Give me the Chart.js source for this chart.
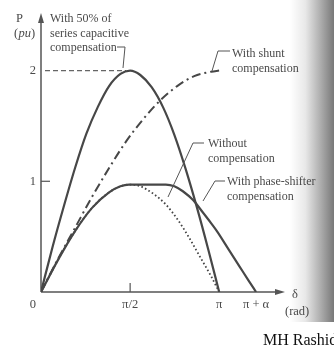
<!DOCTYPE html>
<html><head><meta charset="utf-8">
<script src="https://cdn.jsdelivr.net/npm/chart.js@4"></script>
<style>
html,body{margin:0;padding:0;background:#fff;}
#wrap{position:relative;width:334px;height:352px;overflow:hidden;background:#fff;}
#shade{position:absolute;left:290px;top:0;width:44px;height:322px;background:linear-gradient(to right,rgba(255,255,255,0) 0%,#e8e8e8 35%,#b0b0b0 68%,#787878 100%);}
canvas{position:absolute;left:0;top:0;}
</style></head><body>
<div id="wrap"><div id="shade"></div><canvas id="c" width="334" height="352"></canvas></div>
<script>
// Load angle delta (rad) and power P (pu)
const capDelta = [0,0.2,0.4,0.6,0.8,1.0,1.2,1.4,1.57,1.75,1.95,2.15,2.35,2.55,2.75,2.95,3.14];
const capP     = [0,0.40,0.77,1.12,1.43,1.67,1.86,1.97,2.0,1.96,1.85,1.67,1.42,1.11,0.76,0.38,0];

const shuntDelta = [0,0.3,0.6,0.9,1.2,1.5,1.8,2.1,2.4,2.7,3.0,3.14];
const shuntP     = [0,0.30,0.58,0.86,1.12,1.36,1.56,1.73,1.86,1.95,1.99,2.0];

const withoutDelta = [0,0.3,0.6,0.9,1.2,1.4,1.57,1.75,2.0,2.2,2.4,2.6,2.8,3.0,3.14];
const withoutP     = [0,0.29,0.55,0.76,0.90,0.955,0.97,0.955,0.88,0.79,0.66,0.50,0.32,0.14,0];

const phaseDelta = [0,0.3,0.6,0.9,1.2,1.4,1.55,2.2,2.35,2.5,2.68,2.85,3.0,3.1,3.3,3.5,3.65,3.79];
const phaseP     = [0,0.29,0.55,0.76,0.90,0.955,0.97,0.97,0.955,0.91,0.83,0.72,0.62,0.55,0.39,0.23,0.11,0];

const xTickValues = [1.5708, 3.1416, 3.79];
const xTickLabels = ['π/2', 'π', 'π + α'];
const yTickValues = [1, 2];
const yTickLabels = ['1', '2'];
const peakRef = 2;

const pts = (xs, ys) => xs.map((v, i) => ({x: v, y: ys[i]}));
const ink = '#474747';
const serif = '"Liberation Serif", "DejaVu Serif", serif';

const deco = {
  id: 'deco',
  beforeDatasetsDraw(chart) {
    const {ctx, scales: {x, y}} = chart;
    const x0 = x.getPixelForValue(0), y0 = y.getPixelForValue(0);
    const xEnd = x.getPixelForValue(x.max), yTop = y.getPixelForValue(y.max);
    ctx.save();
    ctx.strokeStyle = '#555'; ctx.fillStyle = '#555'; ctx.lineWidth = 1.5;
    ctx.beginPath();
    ctx.moveTo(x0, y0); ctx.lineTo(xEnd - 5, y0);
    ctx.moveTo(x0, y0); ctx.lineTo(x0, yTop + 5);
    ctx.stroke();
    ctx.beginPath(); ctx.moveTo(xEnd, y0); ctx.lineTo(xEnd - 10, y0 - 3); ctx.lineTo(xEnd - 10, y0 + 3); ctx.closePath(); ctx.fill();
    ctx.beginPath(); ctx.moveTo(x0, yTop); ctx.lineTo(x0 - 3, yTop + 10); ctx.lineTo(x0 + 3, yTop + 10); ctx.closePath(); ctx.fill();
    ctx.lineWidth = 1.2;
    const y1 = y.getPixelForValue(1);
    ctx.beginPath(); ctx.moveTo(x0, y1); ctx.lineTo(x0 + 9, y1); ctx.stroke();
    const xp = x.getPixelForValue(xTickValues[0]);
    ctx.beginPath(); ctx.moveTo(xp, y0); ctx.lineTo(xp, y0 - 9); ctx.stroke();
    // dashed reference at P = 2
    const y2 = y.getPixelForValue(peakRef);
    ctx.strokeStyle = '#666'; ctx.lineWidth = 1.3; ctx.setLineDash([5, 3]);
    ctx.beginPath(); ctx.moveTo(x0 + 4, y2); ctx.lineTo(x.getPixelForValue(1.5), y2); ctx.stroke();
    ctx.restore();
  },
  afterDatasetsDraw(chart) {
    const {ctx, scales: {x, y}} = chart;
    const x0 = x.getPixelForValue(0), y0 = y.getPixelForValue(0);
    ctx.save();
    ctx.fillStyle = '#4a4a4a';
    ctx.font = '12.5px ' + serif;
    ctx.textBaseline = 'middle';
    ctx.textAlign = 'right';
    yTickValues.forEach((v, i) => ctx.fillText(yTickLabels[i], x0 - 5, y.getPixelForValue(v)));
    ctx.textBaseline = 'alphabetic';
    ctx.fillText('0', x0 - 5, y0 + 16);
    ctx.textAlign = 'center';
    xTickValues.forEach((v, i) => ctx.fillText(xTickLabels[i], x.getPixelForValue(v), y0 + 16));
    ctx.textAlign = 'left';
    ctx.fillText('δ', 292, 298);
    ctx.fillText('(rad)', 285, 315);
    // axis title P (pu)
    ctx.fillText('P', 16, 22);
    ctx.fillText('(', 14, 37);
    ctx.font = 'italic 12.5px ' + serif;
    ctx.fillText('pu', 18.5, 37);
    ctx.font = '12.5px ' + serif;
    ctx.fillText(')', 31, 37);
    // annotations
    ctx.font = '12px ' + serif;
    ctx.fillText('With 50% of', 50, 22);
    ctx.fillText('series capacitive', 50, 37);
    ctx.fillText('compensation', 50, 51);
    ctx.fillText('With shunt', 232, 57);
    ctx.fillText('compensation', 232, 72);
    ctx.fillText('Without', 208, 147);
    ctx.fillText('compensation', 208, 162);
    ctx.fillText('With phase-shifter', 227, 185);
    ctx.fillText('compensation', 227, 200);
    ctx.strokeStyle = '#555'; ctx.lineWidth = 1;
    const lead = (p) => { ctx.beginPath(); ctx.moveTo(p[0][0], p[0][1]); for (let k = 1; k < p.length; k++) ctx.lineTo(p[k][0], p[k][1]); ctx.stroke(); };
    lead([[117, 47], [125, 47], [123, 68]]);
    lead([[230, 51], [218, 51], [212, 71]]);
    lead([[204, 143], [193, 143], [168, 197]]);
    lead([[225, 181], [215, 181], [203, 201]]);
    // credit
    ctx.fillStyle = '#111';
    ctx.font = '16px ' + serif;
    ctx.fillText('MH Rashid', 263, 345);
    ctx.restore();
  }
};

new Chart(document.getElementById('c'), {
  type: 'line',
  data: {
    datasets: [
      {data: pts(phaseDelta, phaseP), borderColor: ink, borderWidth: 2.2, cubicInterpolationMode: 'monotone'},
      {data: pts(capDelta, capP), borderColor: ink, borderWidth: 2.2, cubicInterpolationMode: 'monotone'},
      {data: pts(shuntDelta, shuntP), borderColor: ink, borderWidth: 2, borderDash: [9, 4, 2, 4], cubicInterpolationMode: 'monotone'},
      {data: pts(withoutDelta, withoutP), borderColor: '#444', borderWidth: 1.8, borderDash: [1.6, 2.4], cubicInterpolationMode: 'monotone'}
    ]
  },
  options: {
    responsive: false, animation: false, devicePixelRatio: 1,
    layout: {padding: {left: 41, top: 13, right: 49, bottom: 60}},
    plugins: {legend: {display: false}, tooltip: {enabled: false}},
    elements: {point: {radius: 0}},
    scales: {
      x: {type: 'linear', min: 0, max: 4.3, display: false},
      y: {type: 'linear', min: 0, max: 2.52, display: false}
    }
  },
  plugins: [deco]
});
</script>
</body></html>
